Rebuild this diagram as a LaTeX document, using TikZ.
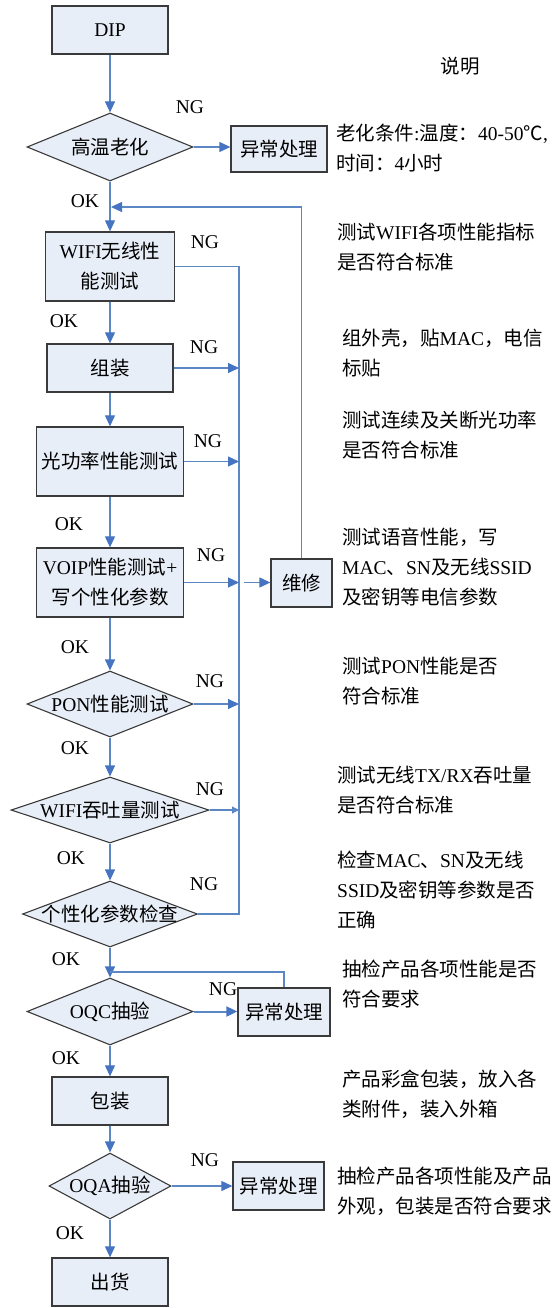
\documentclass[tikz,border=0pt]{standalone}
\usepackage{fontspec}
\setmainfont{Noto Sans CJK SC}
\newfontfamily\enf{Liberation Serif}
\newcommand\EN[1]{{\enf #1}}
\usetikzlibrary{arrows.meta,shapes.geometric,calc}
\definecolor{boxfill}{HTML}{E8EEF8}
\definecolor{boxline}{HTML}{3A3A3A}
\definecolor{lineblue}{HTML}{5B87C5}
\definecolor{tipblue}{HTML}{4674C1}
\tikzset{
  box/.style={draw=boxline, fill=boxfill, line width=1.3pt, rectangle, inner sep=0pt, align=center},
  dia/.style={draw=boxline, fill=boxfill, line width=1.1pt, diamond, inner sep=0pt},
  conn/.style={draw=lineblue, line width=1.1pt},
  arr/.style={conn, -{Triangle[length=11pt,width=10pt,color=tipblue]}},
  sarr/.style={conn, -{Triangle[length=7pt,width=7pt,color=lineblue]}},
  lbl/.style={inner sep=0pt},
  note/.style={inner sep=0pt, anchor=west, align=left}
}
\begin{document}
\begin{tikzpicture}[x=1pt,y=-1pt,font=\fontsize{19.5}{30}\selectfont]
\useasboundingbox (0,0) rectangle (558,1308);
% main column
\node[box, minimum width=116pt, minimum height=48pt] (dip) at (110,30) {\EN{DIP}};
\node[dia, minimum width=166pt, minimum height=68pt, label=center:{高温老化}] (d1) at (110,147) {};
\node[box, minimum width=96pt, minimum height=46pt] (ab1) at (279,149) {异常处理};
\node[box, minimum width=129pt, minimum height=69pt] (wifi) at (110,266.5) {\EN{WIFI}无线性\\能测试};
\node[box, minimum width=126pt, minimum height=48pt] (zz) at (110,368) {组装};
\node[box, minimum width=147pt, minimum height=69pt] (gg) at (110,461.5) {光功率性能测试};
\node[box, minimum width=147pt, minimum height=69pt] (voip) at (110,582.5) {\EN{VOIP}性能测试\EN{+}\\写个性化参数};
\node[box, minimum width=61pt, minimum height=48pt] (wx) at (301.5,583) {维修};
\node[dia, minimum width=166pt, minimum height=66pt, label=center:{\EN{PON}性能测试}] (pon) at (110,704) {};
\node[dia, minimum width=198pt, minimum height=66pt, label=center:{\EN{WIFI}吞吐量测试}] (wt) at (110,810) {};
\node[dia, minimum width=175pt, minimum height=66pt, label=center:{个性化参数检查}] (gx) at (110,914) {};
\node[dia, minimum width=166pt, minimum height=67pt, label=center:{\EN{OQC}抽验}] (oqc) at (110,1011.5) {};
\node[box, minimum width=92pt, minimum height=48pt] (ab2) at (284,1012) {异常处理};
\node[box, minimum width=116pt, minimum height=48pt] (bz) at (110,1101) {包装};
\node[dia, minimum width=122pt, minimum height=66pt, label=center:{\EN{OQA}抽验}] (oqa) at (110,1186) {};
\node[box, minimum width=91pt, minimum height=48pt] (ab3) at (278.5,1186) {异常处理};
\node[box, minimum width=116pt, minimum height=48pt] (ch) at (110,1282) {出货};
% helper coordinates
\coordinate (busTop) at (239,266.5);
\coordinate (busBot) at (239,914);
\coordinate (busOut) at (244,582.5);
\coordinate (ret) at (111,207);
\coordinate (ret2) at (110,972);
% main flow
\draw[arr] (dip) -- (d1);
\draw[arr] (d1) -- (wifi);
\draw[arr] (wifi) -- (zz);
\draw[arr] (zz) -- (gg);
\draw[arr] (gg) -- (voip);
\draw[arr] (voip) -- (pon);
\draw[arr] (pon) -- (wt);
\draw[arr] (wt) -- (gx);
\draw[arr] (gx) -- (oqc);
\draw[arr] (oqc) -- (bz);
\draw[arr] (bz) -- (oqa);
\draw[arr] (oqa) -- (ch);
% NG branches
\draw[arr] (d1.east) -- (d1.east -| ab1.west);
\draw[conn] (wifi.east) -- (busTop) -- (busBot) -- (gx.east);
\draw[arr] (zz.east) -- (zz.east -| busTop);
\draw[arr] (gg.east) -- (gg.east -| busTop);
\draw[arr] (voip.east) -- (voip.east -| busTop);
\draw[arr] (pon.east) -- (pon.east -| busTop);
\draw[sarr] (wt.east) -- (wt.east -| busTop);
\draw[arr] (busOut) -- (busOut -| wx.west);
\draw[arr] (wx.north) |- (ret);
\draw[arr, line width=2pt] (oqc.east) -- (oqc.east -| ab2.west);
\draw[conn] (ab2.north) |- (ret2);
\draw[arr] (oqa.east) -- (oqa.east -| ab3.west);
% NG / OK labels
\node[lbl] (ng1) at (190,107) {\EN{NG}};
\node[lbl] (ok1) at (85,201) {\EN{OK}};
\node[lbl] (ng2) at (205,242) {\EN{NG}};
\node[lbl] (ok2) at (64,321) {\EN{OK}};
\node[lbl] (ng3) at (204,347) {\EN{NG}};
\node[lbl] (ng4) at (208,441) {\EN{NG}};
\node[lbl] (ok4) at (69,524) {\EN{OK}};
\node[lbl] (ng5) at (211,555) {\EN{NG}};
\node[lbl] (ok5) at (75,647) {\EN{OK}};
\node[lbl] (ng6) at (210,681) {\EN{NG}};
\node[lbl] (ok6) at (75,748) {\EN{OK}};
\node[lbl] (ng7) at (210,789) {\EN{NG}};
\node[lbl] (ok7) at (71,858) {\EN{OK}};
\node[lbl] (ng8) at (204,884) {\EN{NG}};
\node[lbl] (ok8) at (66,959) {\EN{OK}};
\node[lbl] (ng9) at (223,989) {\EN{NG}};
\node[lbl] (ok9) at (66,1058) {\EN{OK}};
\node[lbl] (ng10) at (205,1160) {\EN{NG}};
\node[lbl] (ok10) at (70,1233) {\EN{OK}};
% notes
\node[lbl] (sm) at (460,66) {说明};
\node[note] (n1) at (336,148) {老化条件\EN{:}温度：\EN{40-50}℃\EN{,}\\时间：\EN{4}小时};
\node[note] (n2) at (337,247.5) {测试\EN{WIFI}各项性能指标\\是否符合标准};
\node[note] (n3) at (342,353) {组外壳，贴\EN{MAC}，电信\\标贴};
\node[note] (n4) at (342,435) {测试连续及关断光功率\\是否符合标准};
\node[note] (n5) at (342,567.5) {测试语音性能，写\\\EN{MAC}、\EN{SN}及无线\EN{SSID}\\及密钥等电信参数};
\node[note] (n6) at (342,681) {测试\EN{PON}性能是否\\符合标准};
\node[note] (n7) at (337,790) {测试无线\EN{TX/RX}吞吐量\\是否符合标准};
\node[note] (n8) at (337,890) {检查\EN{MAC}、\EN{SN}及无线\\\EN{SSID}及密钥等参数是否\\正确};
\node[note] (n9) at (342,984) {抽检产品各项性能是否\\符合要求};
\node[note] (n10) at (342,1094) {产品彩盒包装，放入各\\类附件，装入外箱};
\node[note] (n11) at (337,1191.5) {抽检产品各项性能及产品\\外观，包装是否符合要求};
\end{tikzpicture}
\end{document}
